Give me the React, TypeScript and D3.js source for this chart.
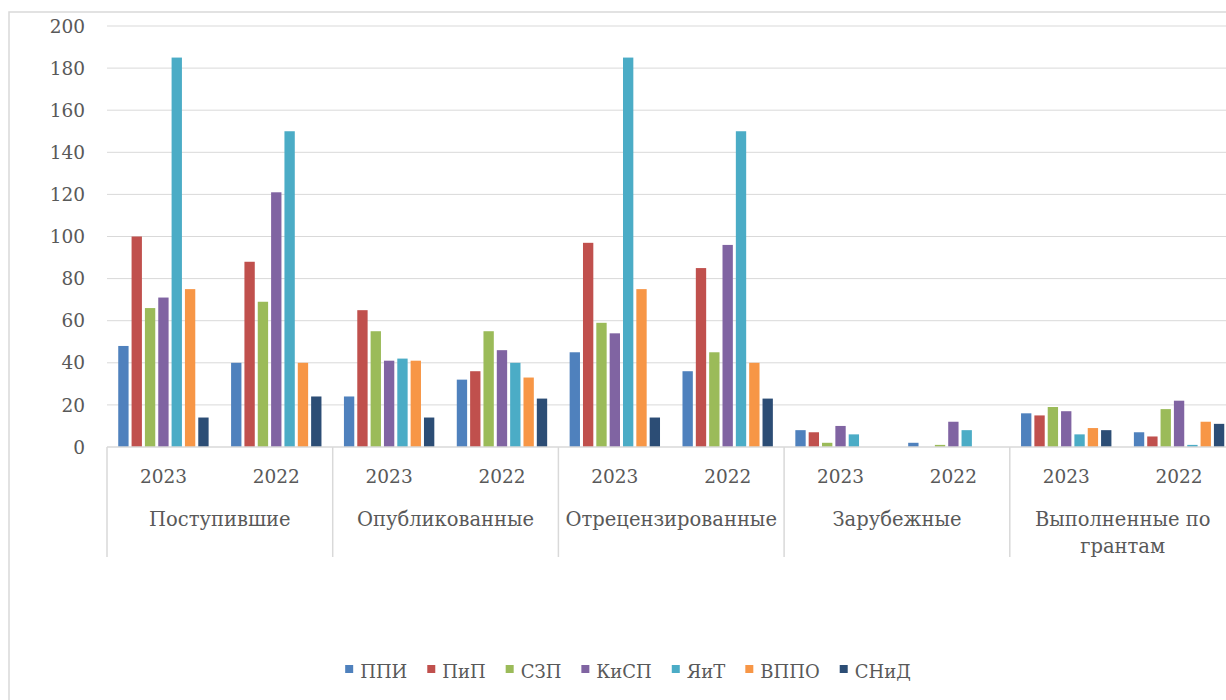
import React, { useEffect, useRef } from "react";
import * as d3 from "d3";

const categories = ["Поступившие", "Опубликованные", "Отрецензированные", "Зарубежные", "Выполненные по грантам"];
const years = ["2023", "2022"];
const seriesNames = ["ППИ", "ПиП", "СЗП", "КиСП", "ЯиТ", "ВППО", "СНиД"];
const seriesColors = ["#4F81BD", "#C0504D", "#9BBB59", "#8064A2", "#4BACC6", "#F79646", "#2C4D75"];

// values in order: category × year (2023, 2022)
const ppi = [48, 40, 24, 32, 45, 36, 8, 2, 16, 7];
const pip = [100, 88, 65, 36, 97, 85, 7, 0, 15, 5];
const szp = [66, 69, 55, 55, 59, 45, 2, 1, 19, 18];
const kisp = [71, 121, 41, 46, 54, 96, 10, 12, 17, 22];
const yait = [185, 150, 42, 40, 185, 150, 6, 8, 6, 1];
const vppo = [75, 40, 41, 33, 75, 40, 0, 0, 9, 12];
const snid = [14, 24, 14, 23, 14, 23, 0, 0, 8, 11];
const seriesValues = [ppi, pip, szp, kisp, yait, vppo, snid];

const yTicks = [0, 20, 40, 60, 80, 100, 120, 140, 160, 180, 200];

const W = 1226;
const H = 700;
const FONT = "'DejaVu Serif', serif";
const TEXT = "#595959";
const GRID = "#D9D9D9";

export default function App() {
  const ref = useRef<SVGSVGElement | null>(null);

  useEffect(() => {
    const svg = d3.select(ref.current);
    svg.selectAll("*").remove();

    const m = { left: 107, right: 1235.5, top: 26, bottom: 447 };
    const catFont = 19.5;

    // chart border
    svg.append("rect").attr("x", 9).attr("y", 12).attr("width", 1400).attr("height", 900)
      .attr("fill", "#fff").attr("stroke", GRID).attr("stroke-width", 1.5);

    const y = d3.scaleLinear().domain([0, 200]).range([m.bottom, m.top]);

    const xCat = d3.scaleBand<string>().domain(categories).range([m.left, m.right]);
    const xYear = d3.scaleBand<string>().domain(years).range([0, xCat.bandwidth()]);
    const xSer = d3.scaleBand<string>().domain(seriesNames).range([0, xYear.bandwidth()])
      .paddingInner(0).paddingOuter(0.73);

    // gridlines
    svg.append("g").selectAll("line").data(yTicks.filter(t => t > 0)).join("line")
      .attr("x1", m.left).attr("x2", W).attr("y1", d => y(d)).attr("y2", d => y(d))
      .attr("stroke", GRID).attr("stroke-width", 1);

    // tick labels
    svg.append("g").selectAll("text").data(yTicks).join("text")
      .attr("x", 85).attr("y", d => y(d)).attr("dy", "0.36em")
      .attr("text-anchor", "end").attr("font-family", FONT).attr("font-size", 18.5)
      .attr("fill", TEXT).text(d => String(d));

    // bars
    const gBars = svg.append("g");
    categories.forEach((cat, ci) => {
      years.forEach((yr, yi) => {
        const idx = ci * 2 + yi;
        seriesNames.forEach((s, si) => {
          const v = seriesValues[si][idx];
          if (!v) return;
          const x0 = (xCat(cat) as number) + (xYear(yr) as number) + (xSer(s) as number);
          gBars.append("rect")
            .attr("x", x0 + 1.5)
            .attr("width", xSer.bandwidth() - 3)
            .attr("y", y(v))
            .attr("height", y(0) - y(v))
            .attr("fill", seriesColors[si]);
        });
      });
    });

    // x axis line
    svg.append("line").attr("x1", m.left).attr("x2", W).attr("y1", m.bottom).attr("y2", m.bottom)
      .attr("stroke", GRID).attr("stroke-width", 1.5);

    // category separators
    const seps = categories.map(c => xCat(c) as number).concat([m.right]);
    svg.append("g").selectAll("line").data(seps).join("line")
      .attr("x1", d => d).attr("x2", d => d).attr("y1", m.bottom).attr("y2", 557)
      .attr("stroke", GRID).attr("stroke-width", 1.5);

    // year labels
    categories.forEach(cat => {
      years.forEach(yr => {
        svg.append("text")
          .attr("x", (xCat(cat) as number) + (xYear(yr) as number) + xYear.bandwidth() / 2)
          .attr("y", 483).attr("text-anchor", "middle")
          .attr("font-family", FONT).attr("font-size", 18.5).attr("fill", TEXT).text(yr);
      });
    });

    // category labels with wrapping
    categories.forEach(cat => {
      const cx = (xCat(cat) as number) + xCat.bandwidth() / 2;
      const t = svg.append("text").attr("x", cx).attr("y", 526).attr("text-anchor", "middle")
        .attr("font-family", FONT).attr("font-size", catFont).attr("fill", TEXT).text(cat);
      const node = t.node() as SVGTextElement;
      if (node.getComputedTextLength() > xCat.bandwidth() - 4) {
        const words = cat.split(" ");
        t.text(null);
        const lines: string[] = [];
        let cur: string[] = [];
        const probe = svg.append("text").attr("font-family", FONT).attr("font-size", catFont);
        words.forEach(w => {
          const test = cur.concat([w]).join(" ");
          probe.text(test);
          if ((probe.node() as SVGTextElement).getComputedTextLength() > xCat.bandwidth() - 4 && cur.length) {
            lines.push(cur.join(" "));
            cur = [w];
          } else cur.push(w);
        });
        if (cur.length) lines.push(cur.join(" "));
        probe.remove();
        lines.forEach((ln, i) => {
          t.append("tspan").attr("x", cx).attr("dy", i === 0 ? 0 : 27).text(ln);
        });
      }
    });

    // legend
    const lg = svg.append("g");
    const items: { g: any; w: number }[] = [];
    seriesNames.forEach((s, i) => {
      const g = lg.append("g");
      g.append("rect").attr("x", 0).attr("y", -13).attr("width", 8).attr("height", 8).attr("fill", seriesColors[i]);
      const t = g.append("text").attr("x", 15).attr("y", 0).attr("font-family", FONT).attr("font-size", 18)
        .attr("fill", TEXT).text(s);
      const w = 15 + (t.node() as SVGTextElement).getComputedTextLength();
      items.push({ g, w });
    });
    const gap = 20;
    const total = d3.sum(items, d => d.w) + gap * (items.length - 1);
    let xx = 628 - total / 2;
    items.forEach(it => {
      it.g.attr("transform", `translate(${xx},678)`);
      xx += it.w + gap;
    });
  }, []);

  return (
    <svg ref={ref} width={W} height={H}
      style={{ position: "absolute", left: 0, top: 0, background: "#fff" }} />
  );
}
